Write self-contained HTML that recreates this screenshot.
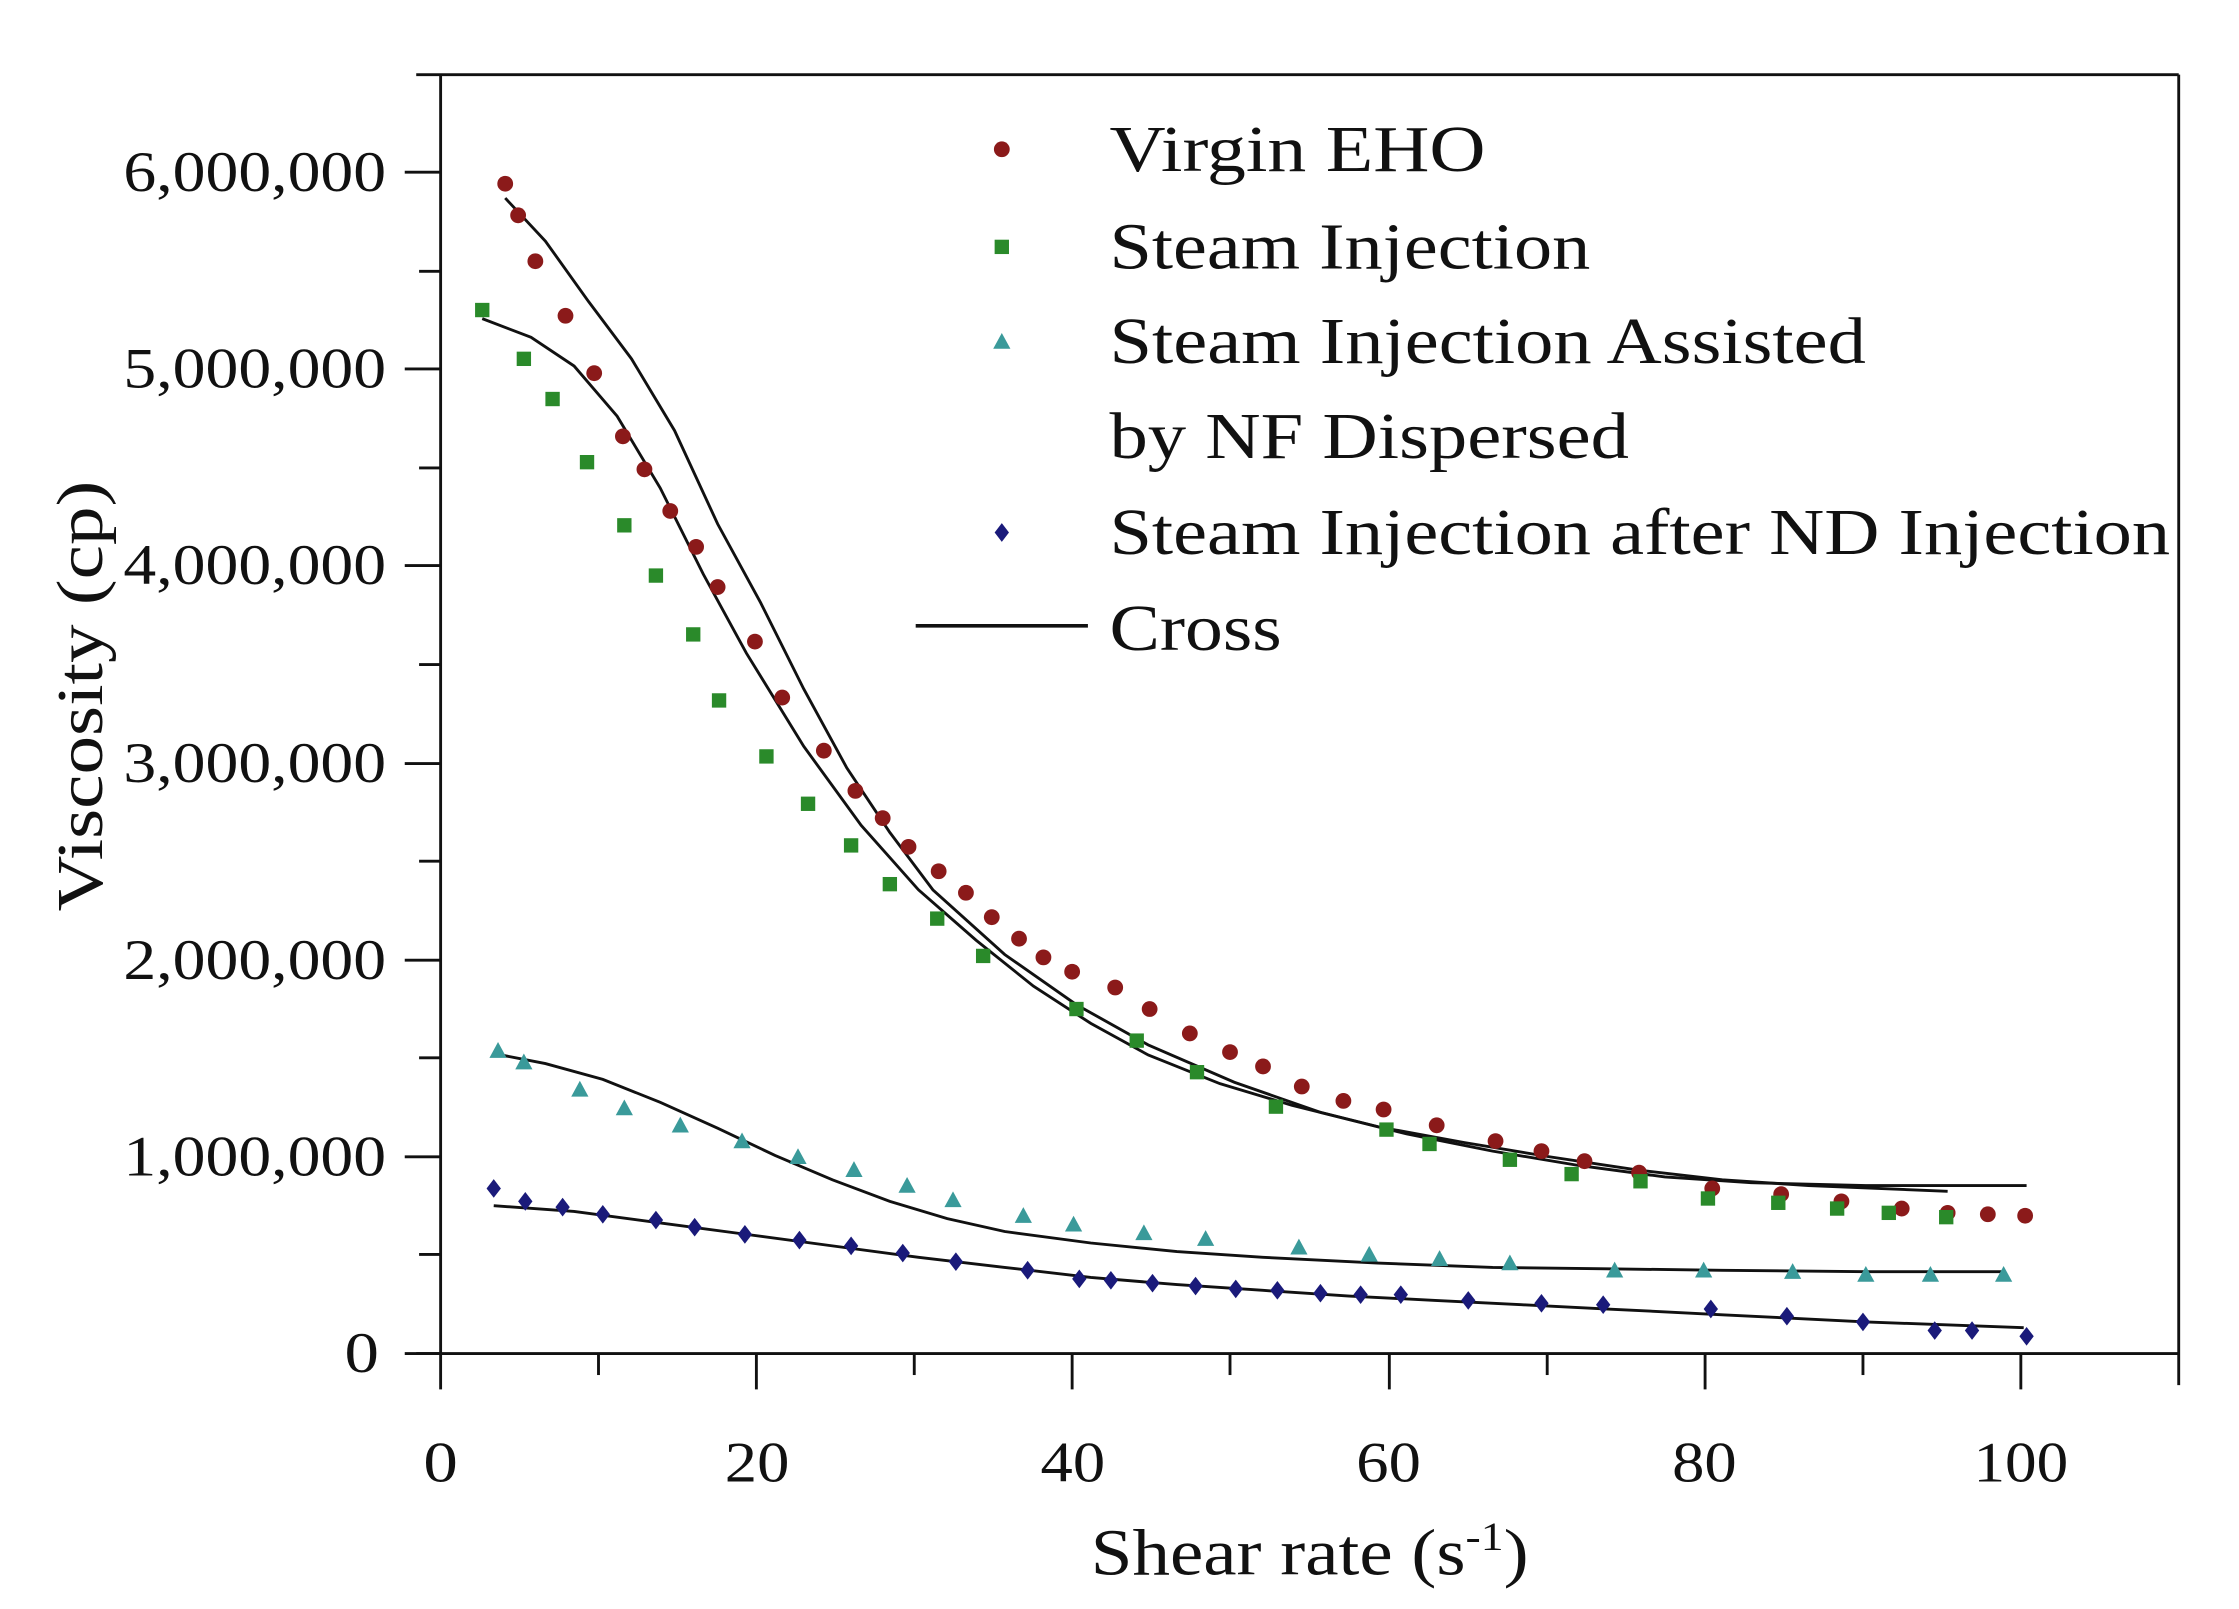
<!DOCTYPE html>
<html><head><meta charset="utf-8"><style>
html,body{margin:0;padding:0;background:#fff;width:2239px;height:1609px;overflow:hidden}
svg{display:block}
text{font-family:"Liberation Serif",serif;fill:#111}
</style></head><body>
<svg width="2239" height="1609" viewBox="0 0 1560 1121" preserveAspectRatio="none" xmlns="http://www.w3.org/2000/svg">
<defs>
<circle id="c" r="5.5" fill="#8b1a1a"/>
<rect id="s" x="-5" y="-5" width="10" height="10" fill="#2a8a2a"/>
<polygon id="t" points="0,-6 6,5 -6,5" fill="#3a9a9a"/>
<polygon id="d" points="0,-6.5 5,0 0,6.5 -5,0" fill="#1a1a7a"/>
</defs>
<g stroke="#111" stroke-width="2" fill="none">
<line x1="290" y1="52" x2="1518" y2="52"/>
<line x1="307" y1="52" x2="307" y2="943"/>
<line x1="290" y1="943" x2="1518" y2="943"/>
<line x1="1518" y1="52" x2="1518" y2="965"/>
<line x1="282" y1="943" x2="307" y2="943"/><line x1="292" y1="874" x2="307" y2="874"/>
<line x1="282" y1="806" x2="307" y2="806"/><line x1="292" y1="737" x2="307" y2="737"/>
<line x1="282" y1="669" x2="307" y2="669"/><line x1="292" y1="600" x2="307" y2="600"/>
<line x1="282" y1="532" x2="307" y2="532"/><line x1="292" y1="463" x2="307" y2="463"/>
<line x1="282" y1="394" x2="307" y2="394"/><line x1="292" y1="326" x2="307" y2="326"/>
<line x1="282" y1="257" x2="307" y2="257"/><line x1="292" y1="189" x2="307" y2="189"/>
<line x1="282" y1="120" x2="307" y2="120"/>
<line x1="307" y1="943" x2="307" y2="968"/><line x1="417" y1="943" x2="417" y2="958"/>
<line x1="527" y1="943" x2="527" y2="968"/><line x1="637" y1="943" x2="637" y2="958"/>
<line x1="747" y1="943" x2="747" y2="968"/><line x1="857" y1="943" x2="857" y2="958"/>
<line x1="968" y1="943" x2="968" y2="968"/><line x1="1078" y1="943" x2="1078" y2="958"/>
<line x1="1188" y1="943" x2="1188" y2="968"/><line x1="1298" y1="943" x2="1298" y2="958"/>
<line x1="1408" y1="943" x2="1408" y2="968"/>
</g>
<g font-size="40">
<text x="240" y="956" textLength="24" lengthAdjust="spacingAndGlyphs">0</text>
<text x="86" y="819" textLength="183" lengthAdjust="spacingAndGlyphs">1,000,000</text>
<text x="86" y="682" textLength="183" lengthAdjust="spacingAndGlyphs">2,000,000</text>
<text x="86" y="545" textLength="183" lengthAdjust="spacingAndGlyphs">3,000,000</text>
<text x="86" y="407" textLength="183" lengthAdjust="spacingAndGlyphs">4,000,000</text>
<text x="86" y="270" textLength="183" lengthAdjust="spacingAndGlyphs">5,000,000</text>
<text x="86" y="133" textLength="183" lengthAdjust="spacingAndGlyphs">6,000,000</text>
</g>
<g font-size="40">
<text x="295" y="1032" textLength="24" lengthAdjust="spacingAndGlyphs">0</text>
<text x="505" y="1032" textLength="45" lengthAdjust="spacingAndGlyphs">20</text>
<text x="725" y="1032" textLength="45" lengthAdjust="spacingAndGlyphs">40</text>
<text x="945" y="1032" textLength="45" lengthAdjust="spacingAndGlyphs">60</text>
<text x="1165" y="1032" textLength="45" lengthAdjust="spacingAndGlyphs">80</text>
<text x="1375" y="1032" textLength="66" lengthAdjust="spacingAndGlyphs">100</text>
</g>
<text x="760" y="1097" font-size="46" textLength="305" lengthAdjust="spacingAndGlyphs">Shear rate (s<tspan dy="-17" font-size="28">-1</tspan><tspan dy="17">)</tspan></text>
<text transform="translate(71,635) rotate(-90)" font-size="46" textLength="300" lengthAdjust="spacingAndGlyphs">Viscosity (cp)</text>
<g font-size="46">
<text x="773" y="119" textLength="262" lengthAdjust="spacingAndGlyphs">Virgin EHO</text>
<text x="773" y="187" textLength="335" lengthAdjust="spacingAndGlyphs">Steam Injection</text>
<text x="773" y="253" textLength="527" lengthAdjust="spacingAndGlyphs">Steam Injection Assisted</text>
<text x="773" y="319" textLength="362" lengthAdjust="spacingAndGlyphs">by NF Dispersed</text>
<text x="773" y="386" textLength="739" lengthAdjust="spacingAndGlyphs">Steam Injection after ND Injection</text>
<text x="773" y="453" textLength="120" lengthAdjust="spacingAndGlyphs">Cross</text>
</g>
<use href="#c" x="698" y="104"/><use href="#s" x="698" y="172"/><use href="#t" x="698" y="238"/><use href="#d" x="698" y="371"/>
<line x1="638" y1="436" x2="758" y2="436" stroke="#111" stroke-width="2.5"/>
<g fill="none" stroke="#111" stroke-width="2">
<polyline points="352,138 380,168 410,210 440,250 470,300 500,365 530,420 560,480 590,535 620,580 650,620 700,665 750,700 800,728 860,754 920,775 980,790 1040,802 1100,812 1160,820 1220,824 1300,826 1412,826"/>
<polyline points="336,222 370,235 400,255 430,290 460,340 490,400 520,455 560,520 600,575 640,620 680,655 720,687 760,713 800,735 850,755 900,770 960,785 1020,796 1080,806 1140,815 1200,822 1260,826 1357,830"/>
<polyline points="344,734 380,741 420,752 460,768 500,786 540,805 580,822 620,837 660,849 700,858 760,866 820,872 880,876 960,880 1040,883 1120,884 1200,885 1300,886 1397,886"/>
<polyline points="344,840 400,844 460,852 520,860 580,868 640,876 700,883 760,890 820,895 880,899 940,903 1000,906 1060,909 1120,912 1200,916 1300,921 1410,925"/>
</g>
<g>
<use href="#c" x="352" y="128"/><use href="#c" x="361" y="150"/><use href="#c" x="373" y="182"/><use href="#c" x="394" y="220"/><use href="#c" x="414" y="260"/><use href="#c" x="434" y="304"/><use href="#c" x="449" y="327"/><use href="#c" x="467" y="356"/><use href="#c" x="485" y="381"/><use href="#c" x="500" y="409"/><use href="#c" x="526" y="447"/><use href="#c" x="545" y="486"/><use href="#c" x="574" y="523"/><use href="#c" x="596" y="551"/><use href="#c" x="615" y="570"/><use href="#c" x="633" y="590"/><use href="#c" x="654" y="607"/><use href="#c" x="673" y="622"/><use href="#c" x="691" y="639"/><use href="#c" x="710" y="654"/><use href="#c" x="727" y="667"/><use href="#c" x="747" y="677"/><use href="#c" x="777" y="688"/><use href="#c" x="801" y="703"/><use href="#c" x="829" y="720"/><use href="#c" x="857" y="733"/><use href="#c" x="880" y="743"/><use href="#c" x="907" y="757"/><use href="#c" x="936" y="767"/><use href="#c" x="964" y="773"/><use href="#c" x="1001" y="784"/><use href="#c" x="1042" y="795"/><use href="#c" x="1074" y="802"/><use href="#c" x="1104" y="809"/><use href="#c" x="1142" y="817"/><use href="#c" x="1193" y="828"/><use href="#c" x="1241" y="832"/><use href="#c" x="1283" y="837"/><use href="#c" x="1325" y="842"/><use href="#c" x="1357" y="845"/><use href="#c" x="1385" y="846"/><use href="#c" x="1411" y="847"/>
<use href="#s" x="336" y="216"/><use href="#s" x="365" y="250"/><use href="#s" x="385" y="278"/><use href="#s" x="409" y="322"/><use href="#s" x="435" y="366"/><use href="#s" x="457" y="401"/><use href="#s" x="483" y="442"/><use href="#s" x="501" y="488"/><use href="#s" x="534" y="527"/><use href="#s" x="563" y="560"/><use href="#s" x="593" y="589"/><use href="#s" x="620" y="616"/><use href="#s" x="653" y="640"/><use href="#s" x="685" y="666"/><use href="#s" x="750" y="703"/><use href="#s" x="792" y="725"/><use href="#s" x="834" y="747"/><use href="#s" x="889" y="771"/><use href="#s" x="966" y="787"/><use href="#s" x="996" y="797"/><use href="#s" x="1052" y="808"/><use href="#s" x="1095" y="818"/><use href="#s" x="1143" y="823"/><use href="#s" x="1190" y="835"/><use href="#s" x="1239" y="838"/><use href="#s" x="1280" y="842"/><use href="#s" x="1316" y="845"/><use href="#s" x="1356" y="848"/>
<use href="#t" x="347" y="732"/><use href="#t" x="365" y="740"/><use href="#t" x="404" y="759"/><use href="#t" x="435" y="772"/><use href="#t" x="474" y="784"/><use href="#t" x="517" y="795"/><use href="#t" x="556" y="806"/><use href="#t" x="595" y="815"/><use href="#t" x="632" y="826"/><use href="#t" x="664" y="836"/><use href="#t" x="713" y="847"/><use href="#t" x="748" y="853"/><use href="#t" x="797" y="859"/><use href="#t" x="840" y="863"/><use href="#t" x="905" y="869"/><use href="#t" x="954" y="874"/><use href="#t" x="1003" y="877"/><use href="#t" x="1052" y="880"/><use href="#t" x="1125" y="885"/><use href="#t" x="1187" y="885"/><use href="#t" x="1249" y="886"/><use href="#t" x="1300" y="888"/><use href="#t" x="1345" y="888"/><use href="#t" x="1396" y="888"/>
<use href="#d" x="344" y="828"/><use href="#d" x="366" y="837"/><use href="#d" x="392" y="841"/><use href="#d" x="420" y="846"/><use href="#d" x="457" y="850"/><use href="#d" x="484" y="855"/><use href="#d" x="519" y="860"/><use href="#d" x="557" y="864"/><use href="#d" x="593" y="868"/><use href="#d" x="629" y="873"/><use href="#d" x="666" y="879"/><use href="#d" x="716" y="885"/><use href="#d" x="752" y="891"/><use href="#d" x="774" y="892"/><use href="#d" x="803" y="894"/><use href="#d" x="833" y="896"/><use href="#d" x="861" y="898"/><use href="#d" x="890" y="899"/><use href="#d" x="920" y="901"/><use href="#d" x="948" y="902"/><use href="#d" x="976" y="902"/><use href="#d" x="1023" y="906"/><use href="#d" x="1074" y="908"/><use href="#d" x="1117" y="909"/><use href="#d" x="1192" y="912"/><use href="#d" x="1245" y="917"/><use href="#d" x="1298" y="921"/><use href="#d" x="1348" y="927"/><use href="#d" x="1374" y="927"/><use href="#d" x="1412" y="931"/>
</g>
</svg>
</body></html>
